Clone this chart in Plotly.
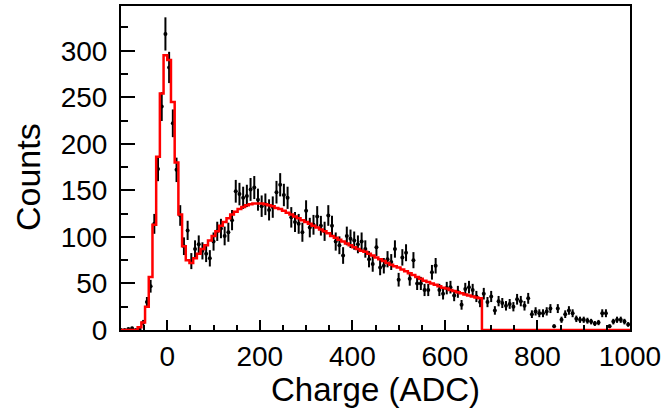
import numpy as np
import plotly.graph_objects as go

# Data histogram: bins of 8 ADC, edges -104 ... 1000
bin_width = 8
first_edge = -104
counts = [0, 0, 1, 2, 0, 1, 8, 30, 47, 114, 173, 240, 318, 282, 222, 172, 123, 90, 107, 74,
          87, 92, 85, 82, 77, 95, 106, 109, 101, 105, 118, 149, 146, 142, 144, 151, 153, 140, 133, 135,
          129, 132, 148, 156, 145, 142, 121, 116, 114, 105, 128, 110, 113, 122, 112, 106, 123, 112, 95, 91,
          80, 101, 98, 96, 92, 95, 87, 76, 71, 89, 67, 69, 76, 73, 87, 54, 78, 83, 55, 75,
          50, 50, 43, 43, 62, 69, 43, 39, 45, 46, 37, 41, 27, 44, 46, 43, 36, 30, 39, 30,
          36, 21, 31, 29, 26, 28, 25, 33, 31, 26, 34, 17, 20, 18, 18, 20, 23, 4, 23, 11,
          17, 21, 18, 12, 11, 11, 10, 9, 7, 8, 18, 18, 4, 9, 11, 11, 9, 6]

# Fit (red) histogram, nonzero from -64 to 680, same binning
fit_first_edge = -64
fit_values = [3, 8, 25, 57, 113, 186, 254, 295, 290, 245, 180, 124, 90, 75, 72, 77, 82, 87, 91, 96,
              101, 106, 112, 116, 120, 124, 127, 130, 132, 134, 135, 136, 136, 136, 135, 134, 133, 131, 130, 128,
              126, 124, 122, 120, 118, 116, 114, 112, 110, 108, 106, 104, 101, 99, 97, 95, 93, 91, 89, 87,
              85, 84, 82, 80, 78, 76, 74, 72, 70, 68.5, 67, 65, 63, 61, 59, 57, 55, 53, 51.5, 50,
              48.5, 47, 45.5, 44.5, 43, 42, 40.5, 39.5, 38, 37, 36, 35, 34]

x_ticks = [0, 200, 400, 600, 800, 1000]
y_ticks = [0, 50, 100, 150, 200, 250, 300]

n = len(counts)
edges = first_edge + bin_width * np.arange(n + 1)
centers = edges[:-1] + bin_width / 2
cnt = np.array(counts, dtype=float)
errs = np.sqrt(cnt)

fit_full = np.zeros(n)
i0 = int((fit_first_edge - first_edge) // bin_width)
fit_full[i0:i0 + len(fit_values)] = fit_values
step_x = list(edges)
step_y = list(fit_full) + [fit_full[-1]]

fig = go.Figure()
fig.add_trace(go.Scatter(
    x=centers, y=cnt, mode="markers",
    marker=dict(color="black", size=4),
    error_y=dict(type="data", array=errs, visible=True, color="black", thickness=2, width=0),
    showlegend=False, cliponaxis=True))
fig.add_trace(go.Scatter(
    x=step_x, y=step_y, mode="lines", line=dict(color="#ff0000", width=2.5, shape="hv"),
    showlegend=False))

font_family = "Liberation Sans, Arial, Helvetica, sans-serif"
fig.update_layout(
    width=667, height=417,
    margin=dict(l=121, r=37, t=4, b=87),
    paper_bgcolor="white", plot_bgcolor="white",
    font=dict(family=font_family, color="black"),
    xaxis=dict(range=[-100, 1000], tickmode="array", tickvals=x_ticks,
               ticktext=[str(v) for v in x_ticks],
               ticks="inside", ticklen=10, tickwidth=2, tickcolor="black",
               minor=dict(dtick=50, tick0=0, ticks="inside", ticklen=5, tickwidth=2, tickcolor="black"),
               showline=True, linewidth=2, linecolor="black", mirror=True,
               showgrid=False, zeroline=False, ticklabelstandoff=0,
               tickfont=dict(size=28, family=font_family, color="black")),
    yaxis=dict(range=[0, 348], tickmode="array", tickvals=y_ticks,
               ticktext=[str(v) for v in y_ticks],
               ticks="inside", ticklen=14, tickwidth=2, tickcolor="black",
               minor=dict(dtick=25, tick0=0, ticks="inside", ticklen=7, tickwidth=2, tickcolor="black"),
               showline=True, linewidth=2, linecolor="black", mirror=True,
               showgrid=False, zeroline=False, ticklabelstandoff=6,
               tickfont=dict(size=28, family=font_family, color="black")),
    annotations=[
        dict(text="Counts", x=-0.1827, y=0.472, xref="paper", yref="paper",
             textangle=-90, showarrow=False, xanchor="center", yanchor="middle",
             font=dict(size=34, family=font_family, color="black")),
        dict(text="Charge (ADC)", x=0.5, y=-0.185, xref="paper", yref="paper",
             showarrow=False, xanchor="center", yanchor="middle",
             font=dict(size=33, family=font_family, color="black")),
    ],
)

fig.write_html("out.html", config={"displayModeBar": False},
               post_script="document.body.style.margin='0';document.body.style.overflow='hidden';")
